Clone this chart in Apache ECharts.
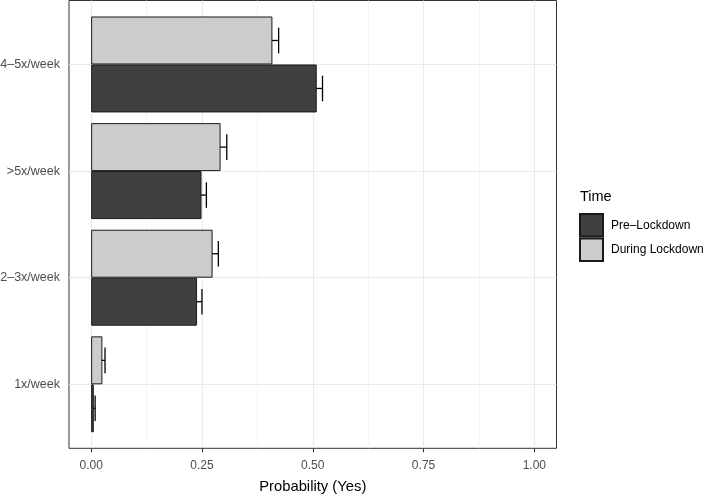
<!DOCTYPE html>
<html>
<head>
<meta charset="utf-8">
<script src="https://cdn.jsdelivr.net/npm/echarts@6/dist/echarts.min.js"></script>
<style>html,body{margin:0;padding:0;background:#fff;}#c{width:706px;height:495px;}</style>
</head>
<body>
<div id="c"></div>
<script>
const categories = ['1x/week', '2–3x/week', '>5x/week', '4–5x/week'];
const seriesNames = ['Pre–Lockdown', 'During Lockdown'];
const preValues = [0.006, 0.239, 0.249, 0.509];
const preErr = [0.003, 0.011, 0.011, 0.013];
const duringValues = [0.0253, 0.274, 0.292, 0.409];
const duringErr = [0.006, 0.013, 0.014, 0.014];
const xTicks = [0, 0.25, 0.5, 0.75, 1];

const FONT = '"Liberation Sans", Arial, Helvetica, sans-serif';
const chart = echarts.init(document.getElementById('c'), null, {renderer: 'canvas'});

// panel geometry (ggplot-like expansion)
const X0 = 91.15, X1 = 534.35;            // pixel of 0 and 1
const unit = X1 - X0;
const panelLeft = X0 - 0.05 * unit;
const panelW = 1.1 * unit;
const panelTop = 0.5, panelH = 447.8;
const band = panelH / 4.2;

function errSeries(name, values, errs, sideSign, withGrid) {
  const s = {
    type: 'custom', name: name + ' err', xAxisIndex: 2, yAxisIndex: 2, z: 2, silent: true,
    data: values.map((v, i) => [v, i, errs[i]]),
    encode: {x: 0, y: 1},
    renderItem: function (params, api) {
      const v = api.value(0), c = api.value(1), e = api.value(2);
      const bw = api.size([0, 1])[1];
      const off = sideSign * 0.225 * bw;
      const pL = api.coord([v - e, c]);
      const pR = api.coord([v + e, c]);
      const y = pL[1] + off;
      const h = 0.12 * bw;
      const st = {stroke: '#000', lineWidth: 1.3};
      return {type: 'group', children: [
        {type: 'line', shape: {x1: pL[0], y1: y, x2: pR[0], y2: y}, style: st},
        {type: 'line', shape: {x1: pL[0], y1: y - h, x2: pL[0], y2: y + h}, style: st},
        {type: 'line', shape: {x1: pR[0], y1: y - h, x2: pR[0], y2: y + h}, style: st}
      ]};
    }
  };
  if (withGrid) {
    s.markLine = {
      silent: true, symbol: 'none', z: 1,
      label: {show: false},
      lineStyle: {color: '#ebebeb', width: 1.1, type: 'solid'},
      emphasis: {disabled: true},
      data: categories.map(c => ({yAxis: c}))
    };
  }
  return s;
}

const option = {
  animation: false,
  backgroundColor: '#fff',
  textStyle: {fontFamily: FONT},
  title: {
    text: 'Time', left: 580, top: 189, padding: 0,
    textStyle: {fontFamily: FONT, fontSize: 14.5, fontWeight: 'normal', color: '#000'}
  },
  legend: {
    data: seriesNames,
    orient: 'vertical', left: 579, top: 213, padding: 0,
    itemWidth: 23, itemHeight: 22.5, itemGap: 0, icon: 'rect',
    textStyle: {fontFamily: FONT, fontSize: 12, color: '#000', padding: [0, 0, 0, 3]},
    selectedMode: false
  },
  grid: [
    {left: panelLeft, top: panelTop, width: panelW, height: panelH, show: true,
     borderColor: '#333333', borderWidth: 1, backgroundColor: 'transparent',
     containLabel: false, outerBoundsMode: 'none'},
    {left: X0, top: panelTop, width: unit, height: panelH,
     containLabel: false, outerBoundsMode: 'none'},
    {left: panelLeft, top: panelTop + 0.1 * band, width: panelW, height: 4 * band,
     containLabel: false, outerBoundsMode: 'none'}
  ],
  xAxis: [
    {type: 'value', gridIndex: 0, min: 0, max: 1, show: false},
    {type: 'value', gridIndex: 1, min: 0, max: 1, interval: 0.25,
     name: 'Probability (Yes)', nameLocation: 'middle', nameGap: 31,
     nameTextStyle: {fontFamily: FONT, fontSize: 14.8, color: '#000'},
     axisLine: {show: false},
     axisTick: {show: true, length: 4, lineStyle: {color: '#333333', width: 1.1}},
     axisLabel: {fontFamily: FONT, fontSize: 12, color: '#4d4d4d', margin: 11,
       customValues: xTicks,
       formatter: v => v.toFixed(2)},
     splitLine: {show: true, lineStyle: {color: '#ebebeb', width: 1.1}},
     minorTick: {show: false, splitNumber: 2},
     minorSplitLine: {show: true, lineStyle: {color: '#f2f2f2', width: 0.8}}},
    {type: 'value', gridIndex: 2, min: -0.05, max: 1.05, show: false}
  ],
  yAxis: [
    {type: 'value', gridIndex: 0, show: false},
    {type: 'value', gridIndex: 1, show: false},
    {type: 'category', gridIndex: 2, data: categories, boundaryGap: true,
     axisLine: {show: false},
     axisTick: {show: true, alignWithLabel: true, length: 4, lineStyle: {color: '#333333', width: 1.1}},
     axisLabel: {fontFamily: FONT, fontSize: 12.5, color: '#4d4d4d', margin: 9},
     splitLine: {show: false}}
  ],
  series: [
    {type: 'bar', name: seriesNames[1], xAxisIndex: 2, yAxisIndex: 2, z: 3,
     data: duringValues, barWidth: '45%', barGap: '0%',
     itemStyle: {color: '#cccccc', borderColor: '#1a1a1a', borderWidth: 1}, silent: true},
    {type: 'bar', name: seriesNames[0], xAxisIndex: 2, yAxisIndex: 2, z: 3,
     data: preValues, barWidth: '45%', barGap: '0%',
     itemStyle: {color: '#404040', borderColor: '#1a1a1a', borderWidth: 1}, silent: true},
    errSeries(seriesNames[1], duringValues, duringErr, -1, true),
    errSeries(seriesNames[0], preValues, preErr, 1, false)
  ]
};
chart.setOption(option);
</script>
</body>
</html>
